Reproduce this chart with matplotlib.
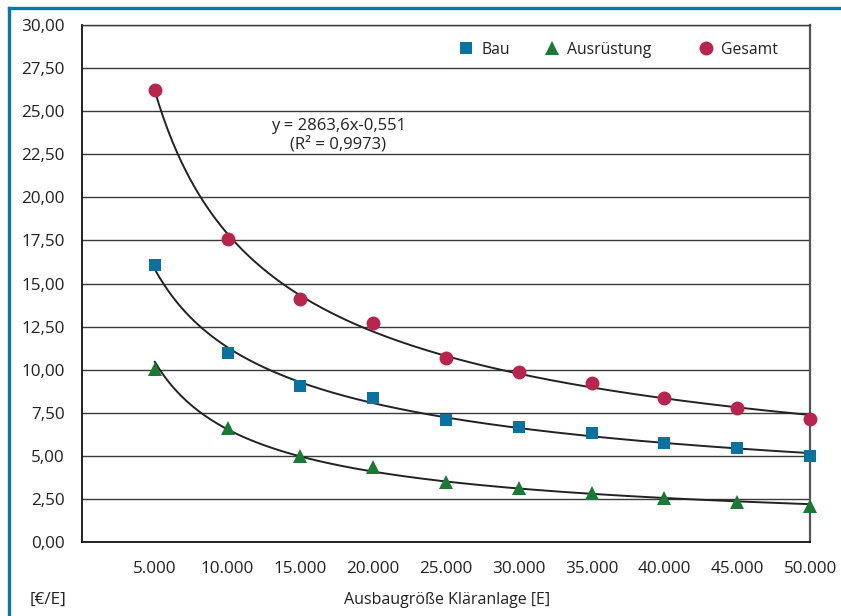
import numpy as np
import matplotlib
matplotlib.use("Agg")
import matplotlib.pyplot as plt
from matplotlib.lines import Line2D
from matplotlib.legend import Legend
from matplotlib.ticker import FuncFormatter

plt.rcParams["font.family"] = ["Open Sans", "DejaVu Sans"]

# Ausbaugröße [E]
groessen = [5000, 10000, 15000, 20000, 25000, 30000, 35000, 40000, 45000, 50000]

# spezifische Kosten [€/E]
bau = [16.1, 10.95, 9.05, 8.35, 7.1, 6.7, 6.35, 5.75, 5.45, 5.0]
ausruestung = [10.05, 6.6, 5.0, 4.35, 3.5, 3.15, 2.85, 2.55, 2.3, 2.1]
gesamt = [26.2, 17.6, 14.1, 12.7, 10.65, 9.85, 9.2, 8.35, 7.8, 7.15]

series = [
    ("Bau", bau, "s", "#0a72a0", 9),
    ("Ausrüstung", ausruestung, "^", "#187a35", 10),
    ("Gesamt", gesamt, "o", "#b8244c", 10),
]
legend_x = [0.517, 0.635, 0.847]

y_ticks = np.arange(0, 30.01, 2.5)

trend_label = "y = 2863,6x-0,551\n(R² = 0,9973)"

text_color = "#222222"


def power_fit(x, y):
    """Fit y = a * x^b in log space (like the Excel power trendline)."""
    b, ln_a = np.polyfit(np.log(x), np.log(y), 1)
    return np.exp(ln_a), b


fig = plt.figure(figsize=(8.41, 6.16), dpi=100)
ax = fig.add_axes([82 / 841, 74 / 616, 728 / 841, 517 / 616])

x = np.array(groessen, dtype=float)
x_fine = np.linspace(x.min(), x.max(), 300)

for i, (name, values, marker, color, msize) in enumerate(series):
    a, b = power_fit(x, np.array(values))
    ax.plot(x_fine, a * x_fine ** b, color="#222222", lw=1.4, zorder=2)
    (handle,) = ax.plot(x, values, linestyle="none", marker=marker, color=color,
                        markersize=msize, markeredgewidth=0, zorder=3, clip_on=False)
    leg = Legend(ax, [handle], [name], loc="center left",
                 bbox_to_anchor=(legend_x[i], 0.952), frameon=False,
                 borderpad=0, borderaxespad=0, handlelength=1.0,
                 handletextpad=0.45, fontsize=11.3)
    for t in leg.get_texts():
        t.set_color(text_color)
    ax.add_artist(leg)

ax.text(17600, 23.6, trend_label, ha="center", va="center", fontsize=12,
        color=text_color, linespacing=1.1)

ax.set_xlim(0, 50000)
ax.set_ylim(0, 30)
ax.set_xticks(groessen)
ax.set_yticks(y_ticks)
ax.xaxis.set_major_formatter(FuncFormatter(lambda v, p: f"{v:,.0f}".replace(",", ".")))
ax.yaxis.set_major_formatter(FuncFormatter(lambda v, p: f"{v:.2f}".replace(".", ",")))
ax.tick_params(axis="both", length=0, labelsize=12.3, colors=text_color)
ax.tick_params(axis="x", pad=14)
ax.tick_params(axis="y", pad=12.5)
ax.grid(axis="y", color="#3a3a3a", lw=1.0)
ax.set_axisbelow(True)

for side in ["left", "bottom"]:
    ax.spines[side].set_color("#111111")
    ax.spines[side].set_linewidth(1.3)
ax.spines["top"].set_color("#3a3a3a")
ax.spines["top"].set_linewidth(1.0)
ax.spines["right"].set_color("#555555")
ax.spines["right"].set_linewidth(1.6)

fig.text(30 / 841, 1 - 600 / 616, "[€/E]", ha="left", va="center", fontsize=12.3, color=text_color)
fig.text(447 / 841, 1 - 600 / 616, "Ausbaugröße Kläranlage [E]", ha="center", va="center",
         fontsize=11.5, color=text_color)

# blue frame, left and top edge only
frame_color = "#0a7aa3"
fig.add_artist(Line2D([9 / 841, 9 / 841], [0, 1 - 8 / 616], transform=fig.transFigure,
                      color=frame_color, lw=2.4, solid_capstyle="projecting"))
fig.add_artist(Line2D([9 / 841, 1], [1 - 8 / 616, 1 - 8 / 616], transform=fig.transFigure,
                      color=frame_color, lw=2.4, solid_capstyle="projecting"))

fig.savefig("out.png", dpi=100)
